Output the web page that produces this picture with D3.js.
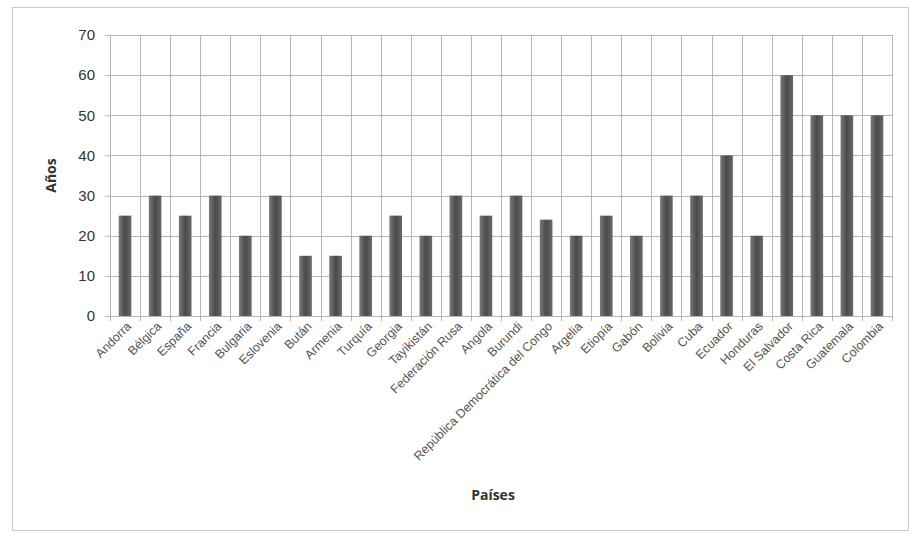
<!DOCTYPE html>
<html>
<head>
<meta charset="utf-8">
<script src="https://cdn.jsdelivr.net/npm/d3@7"></script>
<style>
  body { margin: 0; background: #fff; }
  svg { font-family: "Open Sans", "DejaVu Sans", sans-serif; }
</style>
</head>
<body>
<div id="chart"></div>
<script>
// Data
const paises = ["Andorra", "Bélgica", "España", "Francia", "Bulgaria", "Eslovenia",
  "Bután", "Armenia", "Turquía", "Georgia", "Tayikistán", "Federación Rusa",
  "Angola", "Burundi", "República Democrática del Congo", "Argelia", "Etiopía",
  "Gabón", "Bolivia", "Cuba", "Ecuador", "Honduras", "El Salvador", "Costa Rica",
  "Guatemala", "Colombia"];
const anos = [25, 30, 25, 30, 20, 30, 15, 15, 20, 25, 20, 30, 25, 30, 24, 20, 25,
  20, 30, 30, 40, 20, 60, 50, 50, 50];
const yTicks = [0, 10, 20, 30, 40, 50, 60, 70];

const width = 914, height = 534;
const margin = {top: 35, right: 22, bottom: 218, left: 110};

const svg = d3.select('#chart').append('svg')
  .attr('width', width)
  .attr('height', height);

// outer frame
svg.append('rect')
  .attr('x', 12.5).attr('y', 7.5)
  .attr('width', 896).attr('height', 523)
  .attr('fill', 'none').attr('stroke', '#c8c8c8');

// bar gradient
const grad = svg.append('defs').append('linearGradient')
  .attr('id', 'barGrad').attr('x1', '0%').attr('x2', '100%');
grad.append('stop').attr('offset', '0%').attr('stop-color', '#7a7a7a');
grad.append('stop').attr('offset', '50%').attr('stop-color', '#4a4a4a');
grad.append('stop').attr('offset', '100%').attr('stop-color', '#6a6a6a');

const x = d3.scaleBand()
  .domain(paises)
  .range([margin.left, width - margin.right])
  .paddingInner(0.58)
  .paddingOuter(0.29);

const y = d3.scaleLinear()
  .domain([0, 70])
  .range([height - margin.bottom, margin.top]);

const innerW = width - margin.right - margin.left;

// horizontal gridlines
svg.append('g')
  .selectAll('line')
  .data(yTicks)
  .join('line')
  .attr('x1', margin.left).attr('x2', width - margin.right)
  .attr('y1', d => Math.round(y(d)) + 0.5).attr('y2', d => Math.round(y(d)) + 0.5)
  .attr('stroke', '#b4b4b4');

// vertical gridlines at category boundaries
const bounds = d3.range(paises.length + 1);
svg.append('g')
  .selectAll('line')
  .data(bounds)
  .join('line')
  .attr('x1', i => Math.round(margin.left + i * innerW / paises.length) + 0.5)
  .attr('x2', i => Math.round(margin.left + i * innerW / paises.length) + 0.5)
  .attr('y1', margin.top).attr('y2', height - margin.bottom + 5)
  .attr('stroke', '#b4b4b4');

// bars
svg.append('g')
  .selectAll('rect')
  .data(anos)
  .join('rect')
  .attr('x', (d, i) => x(paises[i]))
  .attr('y', d => y(d))
  .attr('width', x.bandwidth())
  .attr('height', d => y(0) - y(d))
  .attr('fill', 'url(#barGrad)');

// y axis
const yAxis = svg.append('g')
  .attr('transform', `translate(${margin.left},0)`)
  .call(d3.axisLeft(y).tickValues(yTicks).tickSize(5).tickPadding(10));
yAxis.select('.domain').remove();
yAxis.selectAll('line').attr('stroke', '#b4b4b4');
yAxis.selectAll('text').attr('font-size', 15).attr('fill', '#333');

// x axis labels
const xAxis = svg.append('g')
  .attr('transform', `translate(0,${height - margin.bottom})`)
  .call(d3.axisBottom(x).tickSize(0).tickPadding(0));
xAxis.select('.domain').remove();
xAxis.selectAll('text')
  .attr('font-size', 12.5)
  .attr('fill', '#555')
  .attr('text-anchor', 'end')
  .attr('dy', 0)
  .attr('transform', 'translate(7,11) rotate(-45)');

// axis titles
svg.append('text')
  .attr('transform', `translate(56,${(margin.top + height - margin.bottom) / 2}) rotate(-90)`)
  .attr('text-anchor', 'middle')
  .attr('font-size', 14)
  .attr('font-weight', 'bold')
  .attr('fill', '#333')
  .text('Años');

svg.append('text')
  .attr('x', 493).attr('y', 500)
  .attr('text-anchor', 'middle')
  .attr('font-size', 14)
  .attr('font-weight', 'bold')
  .attr('fill', '#333')
  .text('Países');
</script>
</body>
</html>
